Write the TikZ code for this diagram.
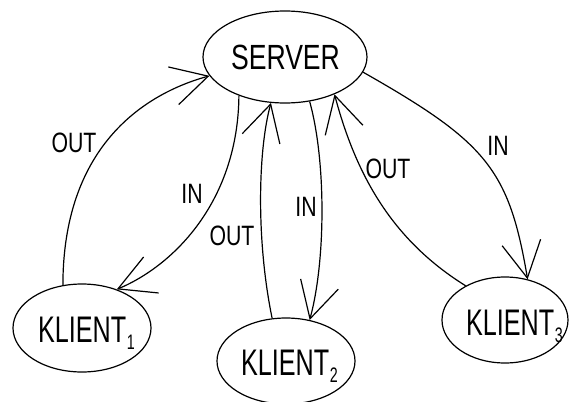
\documentclass[tikz,border=0pt]{standalone}
\usepackage{fontspec}
\setmainfont{Liberation Sans}
\newfontfamily\labelfont[FakeStretch=0.76]{Liberation Sans}
\newfontfamily\namefont[FakeStretch=0.68]{Liberation Sans}
\usetikzlibrary{arrows.meta,shapes.geometric}

\tikzset{
  station/.style={draw, ellipse, inner sep=0pt, line width=1.2pt},
  link/.style={line width=1.2pt, -{Straight Barb[length=36pt,width=39pt]}},
  flow/.style={inner sep=0pt, font=\labelfont\fontsize{28}{28}\selectfont},
  title/.style={inner sep=0pt, font=\labelfont\fontsize{35}{35}\selectfont},
  client/.style={inner sep=0pt, anchor=base west, font=\namefont\fontsize{37}{37}\selectfont}
}
\newcommand\clientname[1]{KLIENT\kern0.5pt\raisebox{-7pt}{\fontsize{21}{21}\selectfont #1}}

\begin{document}
\begin{tikzpicture}[x=1pt,y=-1pt]
\useasboundingbox (0,0) rectangle (571,402);

% stations
\node[station, minimum width=164pt, minimum height=92pt] (server) at (285,57) {};
\node[station, minimum width=138pt, minimum height=88pt] (k1) at (82,328) {};
\node[station, minimum width=138pt, minimum height=86pt] (k2) at (286,361) {};
\node[station, minimum width=126pt, minimum height=86pt] (k3) at (505,320) {};

% station names
\node[title] (servertxt) at (285.5,57.5) {SERVER};
\node[client] (k1txt) at (38,342) {\clientname{1}};
\node[client] (k2txt) at (241,375) {\clientname{2}};
\node[client] (k3txt) at (466,335) {\clientname{3}};

% traffic between server and clients
\draw[link] (k1.114.9) .. controls (63,150) and (140,95) .. (server.194.4);
\draw[link] (server.220.4) .. controls (238,200) and (175,265) .. (k1.48.1);
\draw[link] (k2.108.9) .. controls (256,240) and (258,150) .. (server.253.7);
\draw[link] (server.299) .. controls (326,160) and (326,260) .. (k2.60.8);
\draw[link] (k3.139) .. controls (392,240) and (356,175) .. (server.323);
\draw[link] (server.349.4) .. controls (486,142) and (509,169) .. (k3.61.9);

% direction labels
\node[flow] (out1) at (74,143) {OUT};
\node[flow] (in1) at (192,194) {IN};
\node[flow] (out2) at (232,236) {OUT};
\node[flow] (in2) at (306,207) {IN};
\node[flow] (out3) at (388,169) {OUT};
\node[flow] (in3) at (498,146) {IN};
\end{tikzpicture}
\end{document}
